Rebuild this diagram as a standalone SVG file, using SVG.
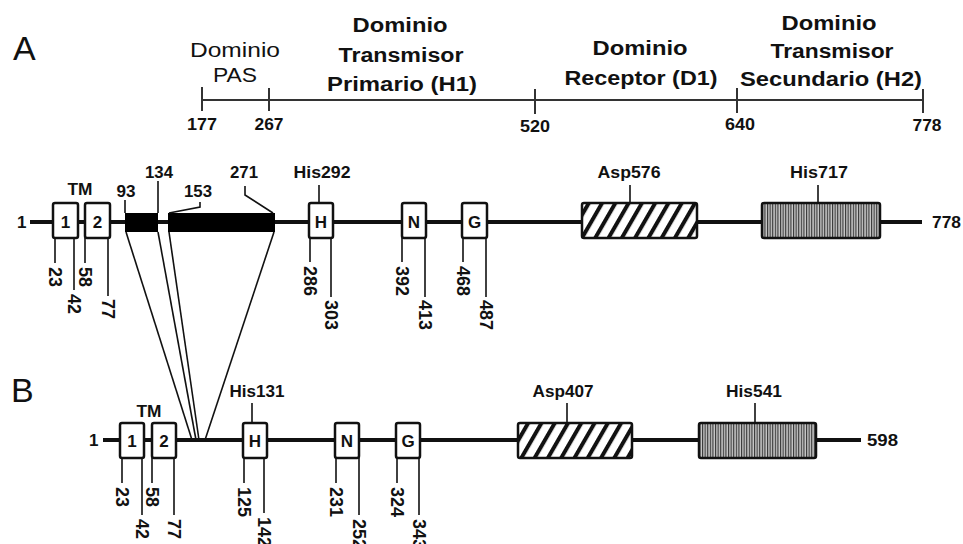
<svg xmlns="http://www.w3.org/2000/svg" width="963" height="544" viewBox="0 0 963 544">
<style>
text{font-family:"Liberation Sans",Arial,Helvetica,sans-serif;fill:#111}
.big{font-size:34px}
.hd{font-size:19.5px;font-weight:bold;text-anchor:middle}
.hr{font-size:19.5px;text-anchor:middle}
.lb{font-size:17px;font-weight:bold;text-anchor:middle}
.st{font-size:17px;font-weight:bold}
.rn{font-size:18px;font-weight:bold}
.ax{stroke:#333;stroke-width:2;fill:none}
.bb{stroke:#111;stroke-width:4;fill:none}
.box{fill:#fff;stroke:#111;stroke-width:2.5}
.hat{fill:url(#diag);stroke:#111;stroke-width:2.5}
.vh{fill:url(#vert);stroke:#111;stroke-width:2.5}
.ln{stroke:#111;stroke-width:1.6;fill:none}
.bar{fill:#000}
</style>
<defs>
<pattern id="diag" patternUnits="userSpaceOnUse" width="11.5" height="11.5" patternTransform="rotate(30)">
<rect width="11.5" height="11.5" fill="#fff"/>
<line x1="2" y1="0" x2="2" y2="11.5" stroke="#111" stroke-width="4"/>
</pattern>
<pattern id="vert" patternUnits="userSpaceOnUse" width="2.6" height="10">
<rect width="2.6" height="10" fill="#c8c8c8"/>
<line x1="0.6" y1="0" x2="0.6" y2="10" stroke="#222" stroke-width="1"/>
</pattern>
</defs>

<!-- Panel letters -->
<text class="big" x="13" y="60">A</text>
<text class="big" x="11" y="402">B</text>

<!-- Domain scale -->
<g id="domain-scale">
<line class="ax" x1="202" y1="100" x2="923" y2="100"/>
<line class="ax" x1="202" y1="87" x2="202" y2="111"/>
<line class="ax" x1="269" y1="88" x2="269" y2="111"/>
<line class="ax" x1="535" y1="89" x2="535" y2="114"/>
<line class="ax" x1="737" y1="88" x2="737" y2="113"/>
<line class="ax" x1="923" y1="89" x2="923" y2="113"/>
<text class="lb" x="202" y="130" textLength="30" lengthAdjust="spacingAndGlyphs">177</text>
<text class="lb" x="269" y="130" textLength="29" lengthAdjust="spacingAndGlyphs">267</text>
<text class="lb" x="535" y="132" textLength="30" lengthAdjust="spacingAndGlyphs">520</text>
<text class="lb" x="740" y="130" textLength="30" lengthAdjust="spacingAndGlyphs">640</text>
<text class="lb" x="927" y="131" textLength="29" lengthAdjust="spacingAndGlyphs">778</text>
</g>
<g id="dom-pas">
<text class="hr" x="235" y="57" textLength="90" lengthAdjust="spacingAndGlyphs">Dominio</text>
<text class="hr" x="235" y="82" textLength="44" lengthAdjust="spacingAndGlyphs">PAS</text>
</g>
<g id="dom-h1">
<text class="hd" x="400" y="32" textLength="95" lengthAdjust="spacingAndGlyphs">Dominio</text>
<text class="hd" x="401" y="62" textLength="125" lengthAdjust="spacingAndGlyphs">Transmisor</text>
<text class="hd" x="402" y="91" textLength="150" lengthAdjust="spacingAndGlyphs">Primario (H1)</text>
</g>
<g id="dom-d1">
<text class="hd" x="640" y="55" textLength="95" lengthAdjust="spacingAndGlyphs">Dominio</text>
<text class="hd" x="641" y="85" textLength="153" lengthAdjust="spacingAndGlyphs">Receptor (D1)</text>
</g>
<g id="dom-h2">
<text class="hd" x="829" y="30" textLength="95" lengthAdjust="spacingAndGlyphs">Dominio</text>
<text class="hd" x="832" y="58" textLength="123" lengthAdjust="spacingAndGlyphs">Transmisor</text>
<text class="hd" x="831" y="86" textLength="182" lengthAdjust="spacingAndGlyphs">Secundario (H2)</text>
</g>

<!-- Protein A -->
<g id="protein-a">
<line class="bb" x1="30" y1="222" x2="922" y2="222"/>
<text class="st" x="17" y="228">1</text>
<text class="st" x="932" y="228" textLength="29" lengthAdjust="spacingAndGlyphs">778</text>
</g>
<g id="a-tm1"><rect class="box" x="53" y="203" width="25" height="35" rx="2"/><text class="lb" x="65.5" y="228">1</text></g>
<g id="a-tm2"><rect class="box" x="85" y="203" width="25" height="35" rx="2"/><text class="lb" x="97.5" y="228">2</text></g>
<text class="lb" x="80" y="195" textLength="25" lengthAdjust="spacingAndGlyphs">TM</text>
<g id="a-bar1"><rect class="bar" x="125" y="213" width="33" height="19"/></g>
<g id="a-bar2"><rect class="bar" x="168" y="213" width="107" height="19"/></g>
<g id="a-h"><rect class="box" x="309" y="203" width="24" height="35" rx="2"/><text class="lb" x="321" y="228">H</text></g>
<g id="a-n"><rect class="box" x="402" y="203" width="24" height="35" rx="2"/><text class="lb" x="414" y="228">N</text></g>
<g id="a-g"><rect class="box" x="462" y="203" width="25" height="35" rx="2"/><text class="lb" x="474.5" y="228">G</text></g>
<g id="a-d1"><rect class="hat" x="582" y="203" width="115" height="35" rx="2"/></g>
<g id="a-h2"><rect class="vh" x="762" y="203" width="118" height="35" rx="2"/></g>

<text class="lb" x="126" y="197" textLength="19" lengthAdjust="spacingAndGlyphs">93</text>
<text class="lb" x="159" y="178" textLength="28" lengthAdjust="spacingAndGlyphs">134</text>
<text class="lb" x="198" y="197" textLength="28" lengthAdjust="spacingAndGlyphs">153</text>
<text class="lb" x="244" y="178" textLength="28" lengthAdjust="spacingAndGlyphs">271</text>
<text class="lb" x="322" y="178" textLength="57" lengthAdjust="spacingAndGlyphs">His292</text>
<text class="lb" x="629" y="178" textLength="63" lengthAdjust="spacingAndGlyphs">Asp576</text>
<text class="lb" x="819" y="178" textLength="58" lengthAdjust="spacingAndGlyphs">His717</text>

<!-- Protein B -->
<g id="protein-b">
<line class="bb" x1="103" y1="440" x2="861" y2="440"/>
<text class="st" x="89" y="446">1</text>
<text class="st" x="867" y="446" textLength="31" lengthAdjust="spacingAndGlyphs">598</text>
</g>
<g id="b-tm1"><rect class="box" x="120" y="423" width="24" height="35" rx="2"/><text class="lb" x="132" y="447">1</text></g>
<g id="b-tm2"><rect class="box" x="152" y="423" width="24" height="35" rx="2"/><text class="lb" x="164" y="447">2</text></g>
<text class="lb" x="149" y="417" textLength="25" lengthAdjust="spacingAndGlyphs">TM</text>
<g id="b-h"><rect class="box" x="243" y="423" width="24" height="35" rx="2"/><text class="lb" x="255" y="447">H</text></g>
<g id="b-n"><rect class="box" x="335" y="423" width="24" height="35" rx="2"/><text class="lb" x="347" y="447">N</text></g>
<g id="b-g"><rect class="box" x="396" y="423" width="24" height="35" rx="2"/><text class="lb" x="408" y="447">G</text></g>
<g id="b-d1"><rect class="hat" x="518" y="423" width="114" height="35" rx="2"/></g>
<g id="b-h2"><rect class="vh" x="699" y="423" width="117" height="35" rx="2"/></g>
<text class="lb" x="257" y="397" textLength="55" lengthAdjust="spacingAndGlyphs">His131</text>
<text class="lb" x="563" y="397" textLength="61" lengthAdjust="spacingAndGlyphs">Asp407</text>
<text class="lb" x="754" y="397" textLength="56" lengthAdjust="spacingAndGlyphs">His541</text>

<!-- Connectors -->
<g id="connectors">
<line class="ln" x1="319" y1="185" x2="319" y2="203"/>
<line class="ln" x1="630" y1="185" x2="630" y2="203"/>
<line class="ln" x1="818" y1="185" x2="818" y2="203"/>
<line class="ln" x1="125" y1="200" x2="125" y2="213"/>
<line class="ln" x1="158" y1="181" x2="158" y2="213"/>
<polyline class="ln" points="169,213 200,207 200,202"/>
<polyline class="ln" points="245,186 245,195 273,213"/>
<line class="ln" x1="126" y1="232" x2="192" y2="440"/>
<line class="ln" x1="158" y1="232" x2="196" y2="440"/>
<line class="ln" x1="169" y1="232" x2="199" y2="440"/>
<line class="ln" x1="274" y1="232" x2="205" y2="440"/>
<line class="ln" x1="55" y1="238" x2="55" y2="263"/>
<line class="ln" x1="74" y1="238" x2="74" y2="290"/>
<line class="ln" x1="85" y1="238" x2="85" y2="263"/>
<line class="ln" x1="108" y1="238" x2="108" y2="296"/>
<line class="ln" x1="310" y1="238" x2="310" y2="262"/>
<line class="ln" x1="331" y1="238" x2="331" y2="297"/>
<line class="ln" x1="402" y1="238" x2="402" y2="262"/>
<line class="ln" x1="425" y1="238" x2="425" y2="297"/>
<line class="ln" x1="463" y1="238" x2="463" y2="262"/>
<line class="ln" x1="486" y1="238" x2="486" y2="297"/>
<line class="ln" x1="252" y1="403" x2="252" y2="423"/>
<line class="ln" x1="567" y1="403" x2="567" y2="423"/>
<line class="ln" x1="755" y1="403" x2="755" y2="423"/>
<line class="ln" x1="122" y1="458" x2="122" y2="483"/>
<line class="ln" x1="142" y1="458" x2="142" y2="515"/>
<line class="ln" x1="152" y1="458" x2="152" y2="483"/>
<line class="ln" x1="174" y1="458" x2="174" y2="515"/>
<line class="ln" x1="244" y1="458" x2="244" y2="483"/>
<line class="ln" x1="264" y1="458" x2="264" y2="513"/>
<line class="ln" x1="336" y1="458" x2="336" y2="483"/>
<line class="ln" x1="359" y1="458" x2="359" y2="515"/>
<line class="ln" x1="397" y1="458" x2="397" y2="483"/>
<line class="ln" x1="419" y1="458" x2="419" y2="515"/>
</g>

<!-- Rotated position labels -->
<g id="pos-labels">
<text class="rn" transform="translate(48.5,267) rotate(90)">23</text>
<text class="rn" transform="translate(67.5,294) rotate(90)">42</text>
<text class="rn" transform="translate(78.5,267) rotate(90)">58</text>
<text class="rn" transform="translate(101.5,299) rotate(90)">77</text>
<text class="rn" transform="translate(303.5,266) rotate(90)">286</text>
<text class="rn" transform="translate(324.5,300) rotate(90)">303</text>
<text class="rn" transform="translate(395.5,266) rotate(90)">392</text>
<text class="rn" transform="translate(418.5,300) rotate(90)">413</text>
<text class="rn" transform="translate(456.5,266) rotate(90)">468</text>
<text class="rn" transform="translate(479.5,300) rotate(90)">487</text>
<text class="rn" transform="translate(115.5,487) rotate(90)">23</text>
<text class="rn" transform="translate(135.5,519) rotate(90)">42</text>
<text class="rn" transform="translate(145.5,487) rotate(90)">58</text>
<text class="rn" transform="translate(167.5,519) rotate(90)">77</text>
<text class="rn" transform="translate(237.5,487) rotate(90)">125</text>
<text class="rn" transform="translate(257.5,517) rotate(90)">142</text>
<text class="rn" transform="translate(329.5,487) rotate(90)">231</text>
<text class="rn" transform="translate(352.5,519) rotate(90)">252</text>
<text class="rn" transform="translate(390.5,487) rotate(90)">324</text>
<text class="rn" transform="translate(412.5,519) rotate(90)">343</text>
</g>
</svg>
